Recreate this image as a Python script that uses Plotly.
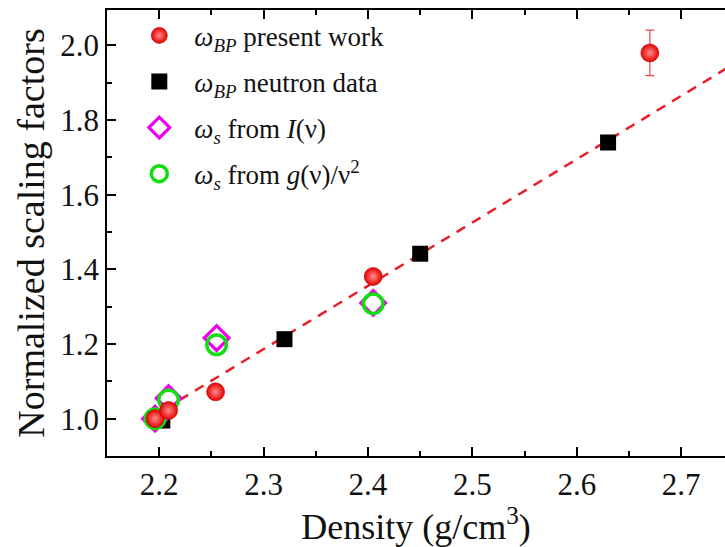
import plotly.graph_objects as go

# Density (g/cm^3) and normalized scaling factors for each data set
bp_present_x = [2.196, 2.209, 2.254, 2.405, 2.670]
bp_present_y = [1.000, 1.022, 1.072, 1.381, 1.980]
bp_present_err = [0.0, 0.0, 0.0, 0.0, 0.061]

bp_neutron_x = [2.203, 2.320, 2.450, 2.630]
bp_neutron_y = [0.995, 1.213, 1.442, 1.740]

ws_intensity_x = [2.196, 2.209, 2.255, 2.405]
ws_intensity_y = [1.000, 1.055, 1.216, 1.310]

ws_vdos_x = [2.196, 2.209, 2.255, 2.405]
ws_vdos_y = [1.000, 1.050, 1.198, 1.308]

# Linear trend drawn as dashed line
trend_x = [2.19, 2.75]
trend_intercept = 1.162
trend_slope = 1.696
trend_x0 = 2.2856
trend_y = [trend_intercept + trend_slope * (x - trend_x0) for x in trend_x]

x_ticks = [2.2, 2.3, 2.4, 2.5, 2.6, 2.7]
y_ticks = [1.0, 1.2, 1.4, 1.6, 1.8, 2.0]

FONT = "Liberation Serif, Times New Roman, serif"
INK = "#111"

fig = go.Figure()

fig.add_trace(go.Scatter(
    x=trend_x, y=trend_y, mode="lines", showlegend=False,
    line=dict(color="#e8202a", width=2.5, dash="10px,8px"),
    hoverinfo="skip",
))

fig.add_trace(go.Scatter(
    x=bp_neutron_x, y=bp_neutron_y, mode="markers",
    name="<i>ω</i><sub><i>BP</i></sub> neutron data",
    legendgroup="b", legendrank=2,
    marker=dict(symbol="square", size=16, color="black"),
))

fig.add_trace(go.Scatter(
    x=ws_intensity_x, y=ws_intensity_y, mode="markers",
    name="<i>ω</i><sub><i>s</i></sub> from <i>I</i>(ν)",
    legendgroup="c", legendrank=3,
    marker=dict(symbol="diamond-open", size=19, color="#ee00ee",
                line=dict(width=3.2, color="#ee00ee")),
))

fig.add_trace(go.Scatter(
    x=ws_vdos_x, y=ws_vdos_y, mode="markers",
    name="<i>ω</i><sub><i>s</i></sub> from <i>g</i>(ν)/ν<sup>2</sup>",
    legendgroup="d", legendrank=4,
    marker=dict(symbol="circle-open", size=19.5, color="#11dd11",
                line=dict(width=3.5, color="#11dd11")),
))

# Shaded red spheres: bright core fading to a deep red rim
fig.add_trace(go.Scatter(
    x=bp_present_x, y=bp_present_y, mode="markers",
    name="<i>ω</i><sub><i>BP</i></sub> present work",
    legendgroup="a", legendrank=1,
    error_y=dict(type="data", array=bp_present_err, visible=True,
                 color="#f04848", thickness=1.2, width=4.5),
    marker=dict(symbol="circle", size=18, color="#e60000",
                gradient=dict(type="radial", color="#ff8c8c"),
                line=dict(width=0.6, color="#c00000")),
))

axis_common = dict(
    showline=True, linecolor="black", linewidth=1.8,
    ticks="inside", ticklen=9, tickwidth=1.8, tickcolor="black",
    showgrid=False, zeroline=False,
    tickfont=dict(family=FONT, size=31, color=INK),
)

fig.update_xaxes(
    range=[2.15, 2.742], tickvals=x_ticks, ticktext=[f"{v:.1f}" for v in x_ticks],
    mirror="ticks",
    minor=dict(ticks="inside", ticklen=5, tickwidth=1.5, tickcolor="black", dtick=0.05),
    title_text="Density (g/cm<sup>3</sup>)", title_standoff=8,
    title_font=dict(family=FONT, size=36, color=INK),
    **axis_common,
)
fig.update_yaxes(
    range=[0.9, 2.095], tickvals=y_ticks, ticktext=[f"{v:.1f}" for v in y_ticks],
    minor=dict(ticks="inside", ticklen=5, tickwidth=1.5, tickcolor="black", dtick=0.1),
    title_text="Normalized scaling factors", title_standoff=4,
    title_font=dict(family=FONT, size=38, color=INK),
    **axis_common,
)

fig.update_layout(
    width=725, height=547,
    margin=dict(l=107, r=0, t=10, b=91),
    paper_bgcolor="white", plot_bgcolor="white",
    font=dict(family=FONT, color=INK),
    legend=dict(
        x=0.028, y=0.997, xanchor="left", yanchor="top",
        bgcolor="rgba(0,0,0,0)", borderwidth=0,
        font=dict(family=FONT, size=27, color=INK),
        itemwidth=60, tracegroupgap=8,
    ),
)

fig.write_html("out.html")
